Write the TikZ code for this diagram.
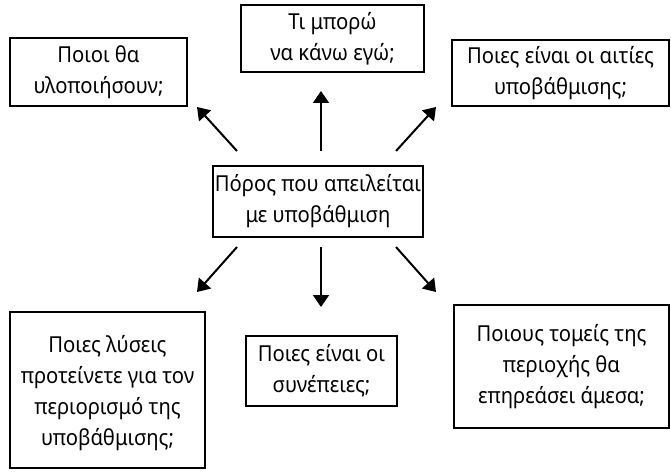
\documentclass[tikz,border=0pt]{standalone}
\usepackage{fontspec}
\setmainfont[FakeStretch=0.92]{Noto Sans}
\usetikzlibrary{arrows.meta}
\begin{document}
\begin{tikzpicture}[x=1pt,y=-1pt,
  qbox/.style={draw=black, line width=2pt, align=center, inner sep=0pt,
    font=\fontsize{22}{31}\selectfont},
  arr/.style={line width=2pt, -{Triangle[length=12pt,width=16pt]}}]
\useasboundingbox (0,0) rectangle (671,473);
\node[qbox, minimum width=177pt, minimum height=68pt] (tl) at (98.5,72) {Ποιοι θα\\υλοποιήσουν;};
\node[qbox, minimum width=183pt, minimum height=67pt] (tc) at (332.5,38.5) {Τι μπορώ\\να κάνω εγώ;};
\node[qbox, minimum width=217pt, minimum height=66pt] (tr) at (560.5,73) {Ποιες είναι οι αιτίες\\υποβάθμισης;};
\node[qbox, minimum width=210pt, minimum height=71pt] (c) at (318,201.5) {Πόρος που απειλείται\\με υποβάθμιση};
\node[qbox, minimum width=195pt, minimum height=156pt, text depth=0pt] (bl) at (107.5,390) {Ποιες λύσεις\\προτείνετε για τον\\περιορισμό της\\υποβάθμισης;};
\node[qbox, minimum width=151pt, minimum height=70pt] (bc) at (321.5,371) {Ποιες είναι οι\\συνέπειες;};
\node[qbox, minimum width=215pt, minimum height=123pt] (br) at (561.5,366.5) {Ποιους τομείς της\\περιοχής θα\\επηρεάσει άμεσα;};
\coordinate (a1s) at (237,151); \coordinate (a1e) at (197,107);
\coordinate (a2s) at (321,151); \coordinate (a2e) at (321,91);
\coordinate (a3s) at (396,151); \coordinate (a3e) at (436,107);
\coordinate (a4s) at (237,247); \coordinate (a4e) at (197,292);
\coordinate (a5s) at (321,247); \coordinate (a5e) at (321,307);
\coordinate (a6s) at (396,247); \coordinate (a6e) at (436,292);
\draw[arr] (a1s) -- (a1e);
\draw[arr] (a2s) -- (a2e);
\draw[arr] (a3s) -- (a3e);
\draw[arr] (a4s) -- (a4e);
\draw[arr] (a5s) -- (a5e);
\draw[arr] (a6s) -- (a6e);
\end{tikzpicture}
\end{document}
